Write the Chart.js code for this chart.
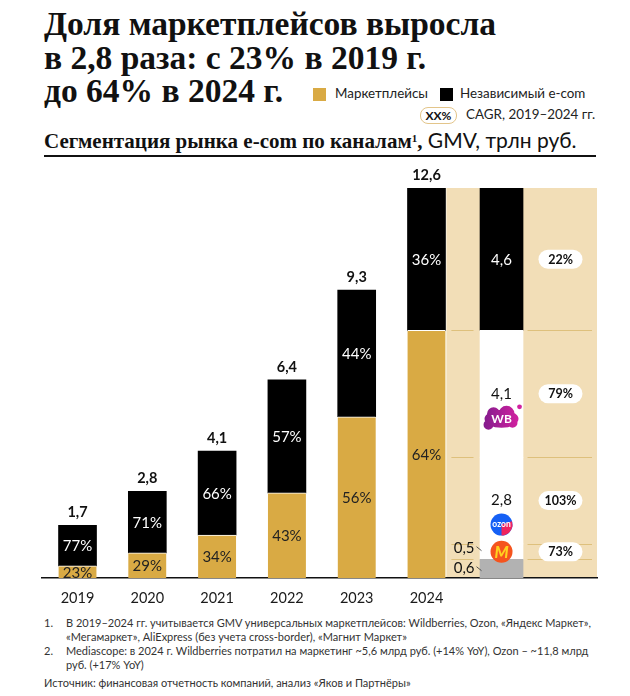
<!DOCTYPE html>
<html>
<head>
<meta charset="utf-8">
<script src="https://cdn.jsdelivr.net/npm/chart.js@4.4.1/dist/chart.umd.min.js"></script>
<style>
  html,body{margin:0;padding:0;background:#fff;}
  body{width:630px;height:696px;position:relative;overflow:hidden;font-family:Lato,"Open Sans",sans-serif;color:#111;}
  .abs{position:absolute;white-space:nowrap;}
  #title{left:44px;top:7px;font-family:"Liberation Serif",serif;font-weight:bold;font-size:33.5px;line-height:33.5px;color:#111;}
  #subtitle{left:44px;top:129px;font-size:21px;line-height:21px;}
  #subtitle .b{font-family:"Liberation Serif",serif;font-weight:bold;}
  #subtitle sup{font-size:11px;vertical-align:top;position:relative;top:-1px;}
  #subtitle .r{font-family:Lato,sans-serif;font-weight:normal;}
  #rule{left:44px;top:155px;width:552px;height:1.5px;background:#111;}
  .sq{position:absolute;width:13px;height:13px;}
  .lg{position:absolute;font-size:13.4px;line-height:15px;color:#222;}
  #pill{position:absolute;left:420px;top:107px;width:35px;height:15px;border:1px solid #E3C58A;border-radius:8px;font-size:12px;font-weight:bold;line-height:15px;text-align:center;background:#fff;}
  .fn{position:absolute;font-size:11px;line-height:14px;color:#333;}
  canvas{position:absolute;left:0;top:160px;}
</style>
</head>
<body>
<div id="title" class="abs">Доля маркетплейсов выросла<br>в 2,8 раза: с 23% в 2019 г.<br>до 64% в 2024 г.</div>
<div class="sq" style="left:313px;top:88px;background:#D9AA44;"></div>
<div class="lg" style="left:335px;top:86px;">Маркетплейсы</div>
<div class="sq" style="left:440px;top:88px;background:#000;"></div>
<div class="lg" style="left:460px;top:86px;">Независимый e-com</div>
<div id="pill">XX%</div>
<div class="lg" style="left:466px;top:107px;">CAGR, 2019–2024 гг.</div>
<div id="subtitle" class="abs"><span class="b">Сегментация рынка e-com по каналам<sup>1</sup>,</span><span class="r"> GMV, трлн руб.</span></div>
<div id="rule" class="abs"></div>

<canvas id="c" width="630" height="450"></canvas>

<div class="fn" style="left:44px;top:616px;">1.</div>
<div class="fn" style="left:66px;top:616px;">В 2019–2024 гг. учитывается GMV универсальных маркетплейсов: Wildberries, Ozon, «Яндекс Маркет»,<br>«Мегамаркет», AliExpress (без учета cross-border), «Магнит Маркет»</div>
<div class="fn" style="left:44px;top:644px;">2.</div>
<div class="fn" style="left:66px;top:644px;">Mediascope: в 2024 г. Wildberries потратил на маркетинг ~5,6 млрд руб. (+14% YoY), Ozon – ~11,8 млрд<br>руб. (+17% YoY)</div>
<div class="fn" style="left:44px;top:676px;">Источник: финансовая отчетность компаний, анализ «Яков и Партнёры»</div>

<script>
// ---- data ----
const years = ['2019','2020','2021','2022','2023','2024'];
const totalGMV = [1.7, 2.8, 4.1, 6.4, 9.3, 12.6];
const marketplaceGMV = [0.39, 0.81, 1.39, 2.75, 5.21, 8.0];
const independentGMV = [1.31, 1.99, 2.71, 3.65, 4.09, 4.6];
const marketplaceShare = ['23%','29%','34%','43%','56%','64%'];
const independentShare = ['77%','71%','66%','57%','44%','36%'];
const breakdownNames = ['Прочие','Яндекс Маркет','Ozon','Wildberries','Независимый e-com'];
const breakdownValues = [0.6, 0.5, 2.8, 4.1, 4.6];
const breakdownCagr = ['', '73%', '103%', '79%', '22%'];
const breakdownPos = 6.075;   // x-position of the 2024 breakdown column
const cagrPos = 6.92;         // x-position of the CAGR pills
const panelStart = 5.285;     // left edge of the beige panel

const GOLD = '#D9AA44', BLACK = '#000000', BEIGE = '#F2DEB7', GRID = '#DEC07C', GREY = '#B2B2B2';
const fmt = v => v.toFixed(1).replace('.', ',');

Chart.defaults.font.family = 'Lato, "Open Sans", sans-serif';

const yearPts = arr => arr.map((v, i) => ({x: i, y: v}));
const datasets = [
  {label:'Маркетплейсы', data: yearPts(marketplaceGMV), backgroundColor: GOLD, barThickness: 38,
   borderColor:'#fff', borderWidth:{top:1,left:0,right:0,bottom:0}, borderSkipped:false, stack:'s', shares: marketplaceShare, txt:'#222'},
  {label:'Независимый e-com', data: yearPts(independentGMV), backgroundColor: BLACK, barThickness: 38,
   borderWidth:0, stack:'s', shares: independentShare, txt:'#fff'}
];
const bdColors = [GREY, '#fff', '#fff', '#fff', BLACK];
breakdownValues.forEach((v, k) => {
  datasets.push({label: breakdownNames[k], data: [{x: breakdownPos, y: v}], backgroundColor: bdColors[k],
    barThickness: 43, borderWidth: 0, stack: 's', bd: k});
});

function pill(ctx, cx, cy, w, h, text) {
  ctx.save();
  ctx.fillStyle = '#fff';
  ctx.beginPath();
  ctx.roundRect(cx - w/2, cy - h/2, w, h, h/2);
  ctx.fill();
  ctx.fillStyle = '#111';
  ctx.font = 'bold 12.5px Lato, sans-serif';
  ctx.textAlign = 'center'; ctx.textBaseline = 'middle';
  ctx.fillText(text, cx, cy + 0.5);
  ctx.restore();
}
function logoWB(ctx, cx, cy) {
  ctx.save();
  const g = ctx.createLinearGradient(cx - 17, cy, cx + 17, cy);
  g.addColorStop(0, '#851C8E'); g.addColorStop(1, '#D2219F');
  ctx.fillStyle = g;
  ctx.beginPath();
  ctx.ellipse(cx, cy + 1, 17, 9, 0, 0, Math.PI * 2);
  ctx.moveTo(cx - 2, cy - 4); ctx.arc(cx - 8, cy - 4, 6.5, 0, Math.PI * 2);
  ctx.moveTo(cx + 13, cy - 4); ctx.arc(cx + 5, cy - 4, 8, 0, Math.PI * 2);
  ctx.moveTo(cx + 16, cy + 5); ctx.arc(cx + 11, cy + 5, 5, 0, Math.PI * 2);
  ctx.moveTo(cx - 8, cy + 7); ctx.arc(cx - 13, cy + 7, 5, 0, Math.PI * 2);
  ctx.fill();
  ctx.fillStyle = '#D2219F';
  ctx.beginPath(); ctx.arc(cx + 18, cy - 11, 2.4, 0, Math.PI * 2); ctx.fill();
  ctx.fillStyle = '#fff';
  ctx.font = 'bold 12px Lato, sans-serif';
  ctx.textAlign = 'center'; ctx.textBaseline = 'middle';
  ctx.fillText('WB', cx, cy + 1);
  ctx.restore();
}
function logoOzon(ctx, cx, cy) {
  ctx.save();
  ctx.fillStyle = '#1560F5';
  ctx.beginPath(); ctx.arc(cx, cy, 11, 0, Math.PI * 2); ctx.fill();
  ctx.fillStyle = '#F0245E';
  ctx.beginPath(); ctx.moveTo(cx, cy); ctx.arc(cx, cy, 11, -0.1 * Math.PI, 0.5 * Math.PI); ctx.closePath(); ctx.fill();
  ctx.fillStyle = '#fff';
  ctx.font = 'bold 8.5px Lato, sans-serif';
  ctx.textAlign = 'center'; ctx.textBaseline = 'middle';
  ctx.fillText('ozon', cx, cy);
  ctx.restore();
}
function logoYM(ctx, cx, cy) {
  ctx.save();
  ctx.fillStyle = '#F5541E';
  ctx.beginPath(); ctx.arc(cx, cy, 11, 0, Math.PI * 2); ctx.fill();
  ctx.fillStyle = '#FFD21F';
  ctx.font = 'italic 900 16px Lato, sans-serif';
  ctx.textAlign = 'center'; ctx.textBaseline = 'middle';
  ctx.fillText('M', cx, cy + 1);
  ctx.restore();
}

const decor = {
  id: 'decor',
  beforeDatasetsDraw(chart) {
    const {ctx, chartArea: ca, scales: {x, y}} = chart;
    const left = x.getPixelForValue(panelStart);
    const top = y.getPixelForValue(12.6);
    const base = y.getPixelForValue(0);
    ctx.save();
    ctx.fillStyle = BEIGE;
    ctx.fillRect(left, top, ca.right - left, base - top - 1);
    const bx = x.getPixelForValue(breakdownPos);
    ctx.strokeStyle = GRID; ctx.lineWidth = 1;
    let cum = 0;
    for (let k = 0; k < breakdownValues.length - 1; k++) {
      cum += breakdownValues[k];
      const py = Math.round(y.getPixelForValue(cum)) + 0.5;
      ctx.beginPath();
      ctx.moveTo(left + 5, py); ctx.lineTo(bx - 28, py);
      ctx.moveTo(bx + 26, py); ctx.lineTo(ca.right - 5, py);
      ctx.stroke();
    }
    ctx.restore();
  },
  afterDatasetsDraw(chart) {
    const {ctx, scales: {x, y}} = chart;
    ctx.save();
    ctx.textAlign = 'center'; ctx.textBaseline = 'middle';
    chart.data.datasets.forEach((ds, di) => {
      if (!ds.shares) return;
      const meta = chart.getDatasetMeta(di);
      meta.data.forEach((bar, i) => {
        const {y: ty, base} = bar.getProps(['y', 'base'], true);
        ctx.fillStyle = ds.txt;
        ctx.font = '15px Lato, sans-serif';
        ctx.fillText(ds.shares[i], bar.x, (ty + base) / 2 + 1);
      });
    });
    ctx.fillStyle = '#111';
    ctx.font = 'bold 14.5px Lato, sans-serif';
    totalGMV.forEach((t, i) => {
      ctx.fillText(fmt(t), x.getPixelForValue(i), y.getPixelForValue(t) - 13);
    });
    const bx = x.getPixelForValue(breakdownPos);
    const cx = x.getPixelForValue(cagrPos);
    let cum = 0;
    breakdownValues.forEach((v, k) => {
      const y0 = y.getPixelForValue(cum), y1 = y.getPixelForValue(cum + v);
      const mid = (y0 + y1) / 2;
      cum += v;
      ctx.font = '15px Lato, sans-serif';
      if (k === 4) {
        ctx.fillStyle = '#fff'; ctx.fillText(fmt(v), bx, mid + 1);
      } else if (k === 3) {
        ctx.fillStyle = '#111'; ctx.fillText(fmt(v), bx, mid);
        logoWB(ctx, bx, mid + 24);
      } else if (k === 2) {
        ctx.fillStyle = '#111'; ctx.fillText(fmt(v), bx, mid);
        logoOzon(ctx, bx, mid + 24);
      } else {
        if (k === 1) logoYM(ctx, bx, mid);
        ctx.fillStyle = '#111';
        ctx.textAlign = 'right';
        const ly = k === 1 ? mid - 4 : mid - 1;
        ctx.fillText(fmt(v), bx - 27, ly);
        ctx.textAlign = 'center';
        ctx.strokeStyle = '#333'; ctx.lineWidth = 0.8;
        ctx.beginPath(); ctx.moveTo(bx - 25, ly - 1); ctx.lineTo(bx - 20, ly + 3); ctx.stroke();
      }
      if (breakdownCagr[k]) pill(ctx, cx, mid, 44, 19, breakdownCagr[k]);
    });
    ctx.restore();
  }
};

new Chart(document.getElementById('c'), {
  type: 'bar',
  data: {datasets},
  options: {
    responsive: false,
    animation: false,
    devicePixelRatio: 1,
    layout: {padding: {left: 42, right: 33, top: 28, bottom: 0}},
    plugins: {legend: {display: false}, tooltip: {enabled: false}},
    scales: {
      x: {
        type: 'linear', min: -0.509, max: 7.443, stacked: true, offset: false,
        grid: {display: false, drawTicks: false, offset: false},
        border: {display: true, color: '#111', width: 1.5},
        afterFit: s => { s.height = 32; },
        ticks: {
          stepSize: 1, autoSkip: false, maxRotation: 0, padding: 12, includeBounds: false,
          color: '#1a1a1a', font: {size: 14.5},
          callback: v => (Number.isInteger(v) && v >= 0 && v < years.length) ? years[v] : ''
        }
      },
      y: {type: 'linear', min: 0, max: 12.6, stacked: true, display: false}
    }
  },
  plugins: [decor]
});
</script>
</body>
</html>
